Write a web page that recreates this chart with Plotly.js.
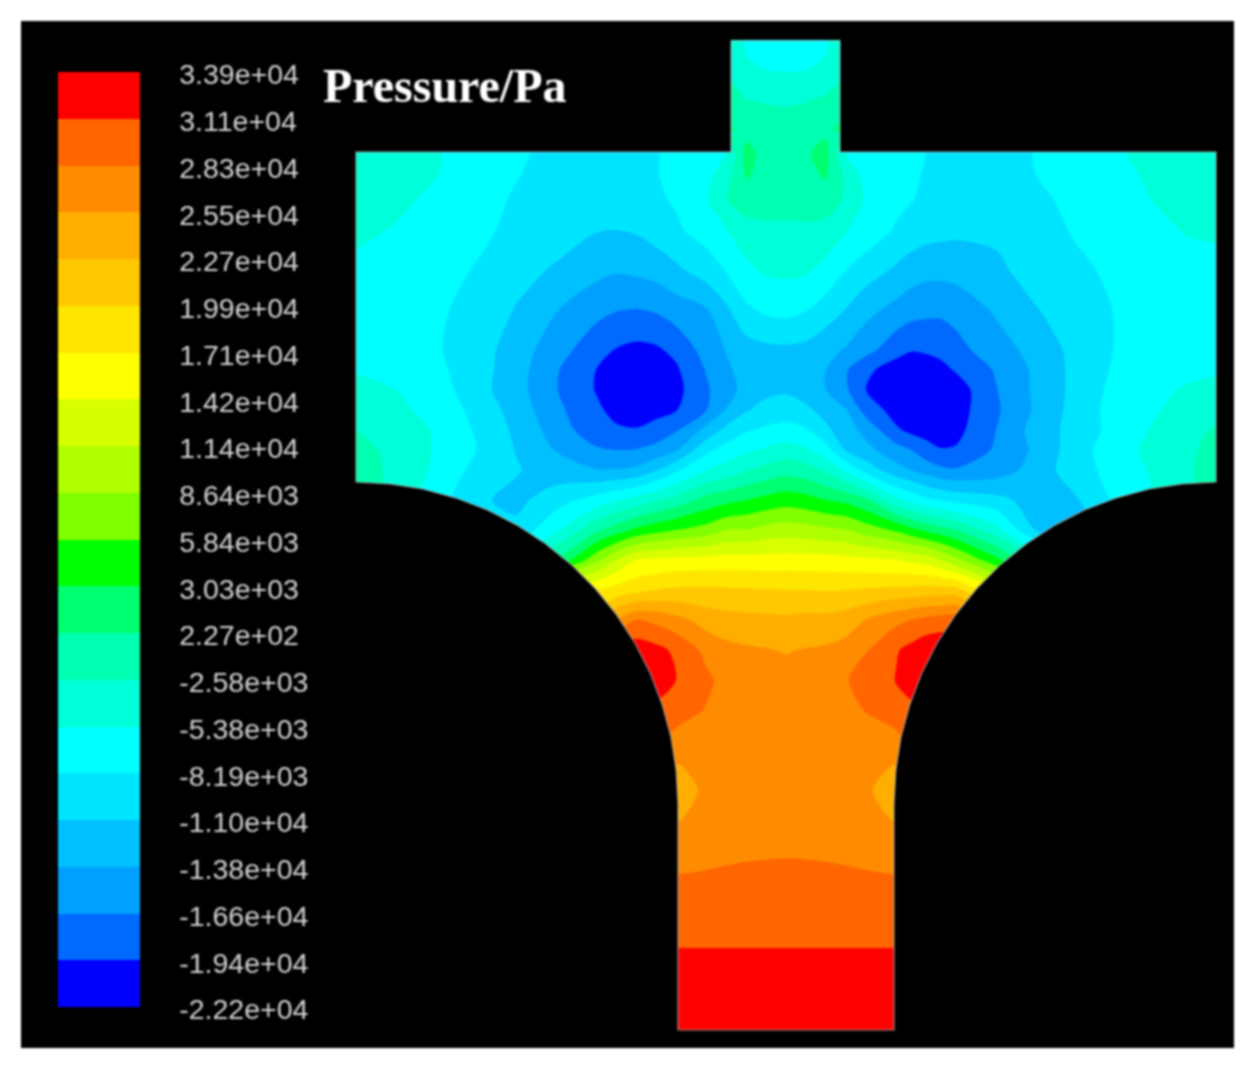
<!DOCTYPE html>
<html>
<head>
<meta charset="utf-8">
<script src="https://cdn.plot.ly/plotly-3.0.1.min.js"></script>
<style>html,body{margin:0;padding:0;background:#fff}#chart{width:1257px;height:1071px;filter:blur(1px)}
.colorbar text{translate:-2px 2.5px}</style>
</head>
<body>
<div id="chart"></div>
<script>
// Pressure band colours, lowest band first
const bandColors = ["#0000ff","#0069ff","#00a0ff","#00c0ff","#00e5ff","#00ffff","#00ffd8","#00ffb0","#00ff70","#00ff00","#80ff00","#b0ff00","#d8ff00","#ffff00","#ffe600","#ffc800","#ffae00","#ff8c00","#ff6600","#ff0000"];
// Legend labels, lowest level first
const levelLabels = ["-2.22e+04","-1.94e+04","-1.66e+04","-1.38e+04","-1.10e+04","-8.19e+03","-5.38e+03","-2.58e+03","2.27e+02","3.03e+03","5.84e+03","8.64e+03","1.14e+04","1.42e+04","1.71e+04","1.99e+04","2.27e+04","2.55e+04","2.83e+04","3.11e+04","3.39e+04"];
const levelIndex = [0,1,2,3,4,5,6,7,8,9,10,11,12,13,14,15,16,17,18,19,20];

// Field sample positions, in picture units
const gridX = [356,396,436,476,516,556,596,616,636,656,676,706,726,746,766,786,806,826,846,866,896,911,926,941,956,996,1036,1076,1116,1156,1186,1216];
const gridY = [40,70,100,130,152,175,200,230,270,310,350,370,390,410,430,450,470,500,530,560,590,620,650,680,710,750,790,830,870,910,950,990,1030];
// Pressure, in legend-level units (0 = -2.22e+04, 20 = 3.39e+04); one row per gridY
const level = [
[5.5,5.5,5.5,5.5,5.5,5.5,5.5,5.5,5.5,5.5,5.5,7,6.5,5.9,5.6,5.5,5.6,5.9,6.5,7,5.5,5.5,5.5,5.5,5.5,5.5,5.5,5.5,5.5,5.5,5.5,5.5],
[5.5,5.5,5.5,5.5,5.5,5.5,5.5,5.5,5.5,5.5,5.5,7.2,6.9,6.1,6,5.95,6,6.1,6.8,7.2,5.5,5.5,5.5,5.5,5.5,5.5,5.5,5.5,5.5,5.5,5.5,5.5],
[5.5,5.5,5.5,5.5,5.5,5.5,5.5,5.5,5.5,5.5,5.5,7.8,7.6,7.02,6.9,6.85,6.95,7.2,7.7,8,5.5,5.5,5.5,5.5,5.5,5.5,5.5,5.5,5.5,5.5,5.5,5.5],
[6.6,6.4,6,5.7,5.2,4.8,4.6,4.7,4.8,5,5.2,8.3,8.2,7.7,7.55,7.5,7.55,7.8,8.3,8.4,5.3,5.15,5,4.85,4.7,4.5,5,5.4,5.9,6.3,6.5,6.6],
[6.6,6.4,6.05,5.7,5.15,4.75,4.6,4.65,4.75,4.95,5.2,5.6,6,8.3,7.65,7.4,7.9,8.3,6,5.6,5.3,5.15,5,4.85,4.7,4.5,5.05,5.4,5.9,6.3,6.5,6.6],
[6.5,6.3,6.02,5.6,5.05,4.65,4.5,4.55,4.7,4.95,5.25,5.7,6.5,8.1,7.7,7.5,7.75,8.1,6.8,5.6,5.25,5.1,4.95,4.75,4.6,4.4,5,5.35,5.8,6.15,6.4,6.5],
[6.4,6.15,5.85,5.35,4.9,4.55,4.35,4.45,4.65,4.85,5.1,5.85,6.95,7.6,7.5,7.4,7.5,7.6,6.8,5.85,5.25,5.05,4.8,4.65,4.5,4.3,4.8,5.25,5.65,6.05,6.3,6.45],
[6.15,5.95,5.55,5.2,4.8,4.4,4.05,4,4.1,4.45,4.85,5.4,5.95,6.5,6.75,6.8,6.8,6.6,6.05,5.6,4.9,4.6,4.4,4.3,4.2,4.2,4.6,5.1,5.4,5.8,6.05,6.1],
[5.85,5.6,5.3,4.95,4.3,3.9,3.3,3.1,3.2,3.4,3.8,4.5,5.05,5.8,6.15,6.2,6.15,5.7,5,4.5,3.85,3.5,3.3,3.3,3.4,3.8,4.4,4.8,5.2,5.5,5.7,5.8],
[5.7,5.5,5.2,4.6,3.95,3.05,2.3,2.05,1.95,2.1,2.5,2.9,3.8,4.8,5.2,5.3,5.05,4.5,3.95,3.3,2.7,2.4,2.25,2.2,2.3,3.15,3.95,4.5,5.05,5.35,5.5,5.55],
[5.55,5.3,5.1,4.5,3.5,2.45,1.4,0.95,0.75,0.85,1.25,2.4,3.05,3.55,3.75,3.8,3.7,3.35,2.9,2.35,1.35,1.05,1.15,1.3,1.7,2.5,3.4,4.3,5.05,5.3,5.4,5.45],
[5.95,5.65,5.25,4.45,3.45,2.1,1,0.6,0.45,0.5,0.85,2.05,2.8,3.4,3.7,3.8,3.6,3,2.1,1.2,0.55,0.45,0.4,0.7,1.1,2.1,3.2,4.3,5.15,5.55,5.75,5.9],
[6.2,6,5.5,4.4,3.4,2.05,0.95,0.55,0.5,0.55,0.7,1.85,2.65,3.3,3.7,3.85,3.5,3,2.15,1,0.5,0.4,0.35,0.35,0.45,1.95,3.2,4.3,5.3,5.8,6.1,6.25],
[6.6,6.2,5.7,4.7,3.6,2.25,1.2,0.7,0.6,0.7,0.95,1.95,3.05,3.9,4.4,4.55,4.2,3.65,3.05,1.6,0.6,0.5,0.45,0.4,0.55,1.85,3.15,4.4,5.4,5.9,6.4,6.7],
[7,6.55,5.9,4.9,3.8,2.55,1.35,1.15,1.05,1.35,1.9,3.3,4.25,4.9,5.15,5.3,5.1,4.2,3.45,2.7,1.15,0.75,0.6,0.55,0.7,2,3.4,4.4,5.35,6.15,6.7,7.1],
[7.3,6.75,5.9,5,3.95,2.95,2.15,2,2.05,2.35,2.9,4.75,5.4,5.8,6.15,6.45,6.15,5.4,3.9,3.3,2.4,2,1.4,1.05,1.1,2.15,3.2,4.55,5.6,6.3,6.8,7.3],
[7.4,6.8,5.8,4.7,4.1,3.4,3.05,3.05,3.2,3.9,4.8,5.95,6.4,6.9,7.3,7.6,7.4,6.85,5.8,4.6,3.35,3,2.6,2.2,2.1,2.5,3.4,4.6,5.35,6.2,6.85,7.4],
[7.5,6.6,5.4,4.2,3.7,4.6,5.4,5.9,6.4,6.9,7.4,8.35,8.7,9,9.3,9.55,9.35,9,8.75,8.15,6.3,5.7,5.2,4.95,4.7,4.3,3.6,3.9,5.2,6,6.8,7.4],
[7,6,5,4.5,4.3,5.8,7.8,8.5,9.2,9.65,10,10.4,11,11.05,11.35,11.5,11.4,11.2,11.05,10.5,9.85,9.3,8.8,8.4,8,6.4,3.95,3.5,4.5,5.5,6.5,7],
[5,5,5,5,6,8,10.7,12,13,13.15,13.3,13.35,13.4,13.4,13.4,13.45,13.4,13.4,13.3,13.2,13,12.8,12.6,12,11.2,9.3,7,5,5,5,6,7],
[5,5,5,5,8,13,14,14.4,14.7,15,15.15,15.2,15.15,15.1,15.05,15,15,14.95,15,15.1,15.25,15.3,15.4,15.4,15.4,13,10,5,5,5,6,7],
[5,5,5,5,10,15,15.5,17,18,17.75,17.35,16.6,16.4,16.3,16.25,16.2,16.3,16.3,16.5,17.05,17.75,18,18.3,18.45,18.6,16,10,5,5,5,6,7],
[5,5,5,5,12,18,19,19.3,19.6,19.3,18.8,17.75,17.3,17.15,17.05,16.95,17.05,17.15,17.4,17.95,18.9,19.3,19.7,19.8,19.9,18,12,5,5,5,6,7],
[5,5,5,5,14,18,19.5,19.7,19.9,19.5,19,18.2,17.7,17.45,17.35,17.3,17.35,17.5,17.95,18.3,19.05,19.4,19.8,19.9,19.9,18,14,5,5,5,6,7],
[5,5,5,5,14,18,18.5,18.8,19,18.8,18.5,17.95,17.6,17.4,17.35,17.3,17.35,17.4,17.7,18.05,18.6,18.8,19,19,19,18,14,5,5,5,6,7],
[18,18,18,18,18,18,18,18,18,18,17.4,17.45,17.45,17.45,17.45,17.45,17.45,17.45,17.45,17.45,17.4,18,18,18,18,18,18,18,18,18,18,18],
[18,18,18,18,18,18,18,18,18,18,16.2,17.3,17.5,17.5,17.5,17.5,17.5,17.5,17.5,17.2,16.3,18,18,18,18,18,18,18,18,18,18,18],
[18,18,18,18,18,18,18,18,18,18,17.15,17.55,17.6,17.62,17.64,17.65,17.64,17.62,17.6,17.55,17.15,18,18,18,18,18,18,18,18,18,18,18],
[18,18,18,18,18,18,18,18,18,18,17.95,18,18.05,18.1,18.13,18.15,18.13,18.1,18.05,18,17.95,18,18,18,18,18,18,18,18,18,18,18],
[18.45,18.45,18.45,18.45,18.45,18.45,18.45,18.45,18.45,18.45,18.45,18.45,18.45,18.45,18.45,18.45,18.45,18.45,18.45,18.45,18.45,18.45,18.45,18.45,18.45,18.45,18.45,18.45,18.45,18.45,18.45,18.45],
[19.03,19.03,19.03,19.03,19.03,19.03,19.03,19.03,19.03,19.03,19.03,19.03,19.03,19.03,19.03,19.03,19.03,19.03,19.03,19.03,19.03,19.03,19.03,19.03,19.03,19.03,19.03,19.03,19.03,19.03,19.03,19.03],
[19.5,19.5,19.5,19.5,19.5,19.5,19.5,19.5,19.5,19.5,19.5,19.5,19.5,19.5,19.5,19.5,19.5,19.5,19.5,19.5,19.5,19.5,19.5,19.5,19.5,19.5,19.5,19.5,19.5,19.5,19.5,19.5],
[19.9,19.9,19.9,19.9,19.9,19.9,19.9,19.9,19.9,19.9,19.9,19.9,19.9,19.9,19.9,19.9,19.9,19.9,19.9,19.9,19.9,19.9,19.9,19.9,19.9,19.9,19.9,19.9,19.9,19.9,19.9,19.9]
];

// Curved walls of the fluid domain
const wallY = [482,483.8,489,497.8,509.8,525.1,543.5,564.7,588.5,614.7,643,673,704.5,737,770.4,804,1030];
const wallLeftX = [356,389.7,423,455.5,487,517,545.3,571.5,595.3,616.5,634.9,650.2,662.2,671,676.2,678,678];
const wallRightX = [1216,1182.3,1149,1116.5,1085,1055,1026.7,1000.5,976.7,955.5,937.1,921.8,909.8,901,895.8,894,894];
// Corners of the upper inlet stem and main chamber
const stemX = [731,840], stemTop = 41, chamberTop = 152, chamberX = [356,1216], bottomY = 1030;

const colorscale = [];
bandColors.forEach((c,i)=>{colorscale.push([i/20,c]);colorscale.push([(i+1)/20,c]);});

const hidden = {visible:false,showgrid:false,zeroline:false,fixedrange:true};
const maskStyle = {type:'scatter',mode:'lines',fill:'toself',fillcolor:'#000',line:{width:0},hoverinfo:'skip',showlegend:false};
const traces = [
 {type:'contour',x:gridX,y:gridY,z:level,zmin:0,zmax:20,autocontour:false,
  contours:{start:0,end:20,size:1,coloring:'fill',showlines:false},
  line:{width:0,smoothing:0.85},colorscale:colorscale,
  colorbar:{x:(58-21)/1213,xanchor:'left',xpad:0,y:1-(72-21)/1027,yanchor:'top',ypad:0,
    lenmode:'pixels',len:935,thicknessmode:'pixels',thickness:82,outlinewidth:0,borderwidth:0,
    ticks:'outside',ticklen:36,tickwidth:0,tickcolor:'rgba(0,0,0,0)',
    tickmode:'array',tickvals:levelIndex,ticktext:levelLabels,
    tickfont:{family:'Liberation Sans, Arial, sans-serif',size:28.5,color:'#d4d4d4'}}},
 Object.assign({},maskStyle,{x:[chamberX[0]-2,stemX[0],stemX[0],chamberX[0]-2],y:[stemTop-2,stemTop-2,chamberTop,chamberTop]}),
 Object.assign({},maskStyle,{x:[stemX[1],chamberX[1]+2,chamberX[1]+2,stemX[1]],y:[stemTop-2,stemTop-2,chamberTop,chamberTop]}),
 Object.assign({},maskStyle,{x:wallLeftX.concat([chamberX[0]-2,chamberX[0]-2]),y:wallY.concat([bottomY+2,wallY[0]])}),
 Object.assign({},maskStyle,{x:wallRightX.concat([chamberX[1]+2,chamberX[1]+2]),y:wallY.concat([bottomY+2,wallY[0]])}),
 {type:'scatter',mode:'lines',hoverinfo:'skip',showlegend:false,line:{color:'rgba(190,190,190,0.7)',width:1.2},
  x:[stemX[0],stemX[1],stemX[1],chamberX[1]].concat(wallRightX,wallLeftX.slice().reverse(),[chamberX[0],stemX[0],stemX[0]]),
  y:[stemTop,stemTop,chamberTop,chamberTop].concat(wallY,wallY.slice().reverse(),[chamberTop,chamberTop,stemTop])}
];
const layout = {
 width:1257,height:1071,margin:{l:21,r:23,t:21,b:23,pad:0,autoexpand:false},
 paper_bgcolor:'#fff',plot_bgcolor:'#000',showlegend:false,
 xaxis:Object.assign({range:[21,1234]},hidden),
 yaxis:Object.assign({range:[1048,21]},hidden),
 annotations:[{xref:'x',yref:'y',x:321,y:85,xanchor:'left',yanchor:'middle',showarrow:false,text:'<b>Pressure/Pa</b>',
   font:{family:'Liberation Serif, Times New Roman, serif',size:48,color:'#fff'}}]
};
Plotly.newPlot('chart',traces,layout,{staticPlot:true,displayModeBar:false});
</script>
</body>
</html>
